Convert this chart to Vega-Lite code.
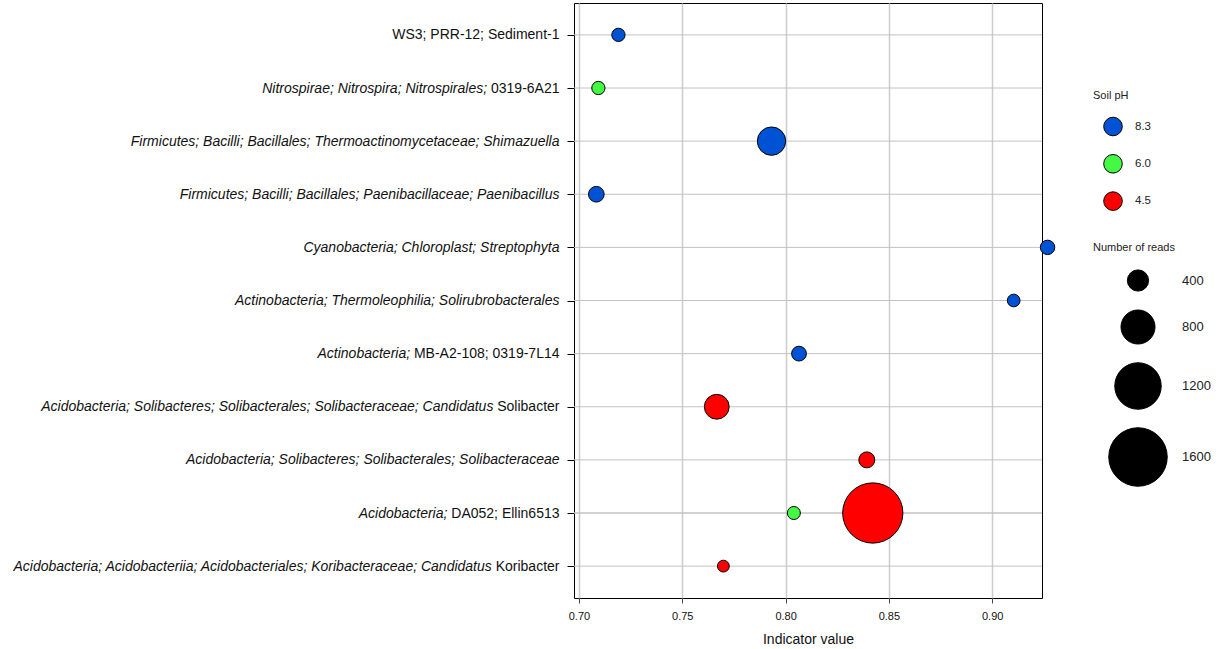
{
  "$schema": "https://vega.github.io/schema/vega-lite/v6.json",
  "width": 468,
  "height": 595,
  "padding": {"left": 11, "top": 3, "right": 0, "bottom": 0},
  "background": "white",
  "config": {
    "font": "Liberation Sans",
    "view": {"stroke": "#000000", "strokeWidth": 1},
    "axis": {"domain": false, "labelColor": "#111111", "titleColor": "#111111"},
    "legend": {
      "padding": 0,
      "labelFontSize": 11.5,
      "labelColor": "#222222",
      "titleFontSize": 11,
      "titleFontWeight": "normal",
      "titleColor": "#222222"
    }
  },
  "data": {
    "values": [
      {"taxon": "WS3; PRR-12; Sediment-1", "ph": "8.3", "reads": 127, "indval": 0.7191},
      {"taxon": "_Nitrospirae; Nitrospira; Nitrospirales;_ 0319-6A21", "ph": "6.0", "reads": 125, "indval": 0.7094},
      {"taxon": "_Firmicutes; Bacilli; Bacillales; Thermoactinomycetaceae; Shimazuella_", "ph": "8.3", "reads": 623, "indval": 0.7932},
      {"taxon": "_Firmicutes; Bacilli; Bacillales; Paenibacillaceae; Paenibacillus_", "ph": "8.3", "reads": 219, "indval": 0.7084},
      {"taxon": "_Cyanobacteria; Chloroplast; Streptophyta_", "ph": "8.3", "reads": 173, "indval": 0.9268},
      {"taxon": "_Actinobacteria; Thermoleophilia; Solirubrobacterales_", "ph": "8.3", "reads": 99, "indval": 0.9104},
      {"taxon": "_Actinobacteria;_ MB-A2-108; 0319-7L14", "ph": "8.3", "reads": 187, "indval": 0.8065},
      {"taxon": "_Acidobacteria; Solibacteres; Solibacterales; Solibacteraceae; Candidatus_ Solibacter", "ph": "4.5", "reads": 512, "indval": 0.7667},
      {"taxon": "_Acidobacteria; Solibacteres; Solibacterales; Solibacteraceae_", "ph": "4.5", "reads": 228, "indval": 0.8393},
      {"taxon": "_Acidobacteria;_ DA052; Ellin6513", "ph": "6.0", "reads": 115, "indval": 0.804},
      {"taxon": "_Acidobacteria;_ DA052; Ellin6513", "ph": "4.5", "reads": 1660, "indval": 0.8422},
      {"taxon": "_Acidobacteria; Acidobacteriia; Acidobacteriales; Koribacteraceae; Candidatus_ Koribacter", "ph": "4.5", "reads": 50, "indval": 0.7699}
    ]
  },
  "layer": [
    {
      "mark": {"type": "rule", "color": "#c2c2c2", "strokeWidth": 1},
      "encoding": {
        "y": {
          "field": "taxon",
          "type": "nominal",
          "sort": null,
          "scale": {"type": "point", "padding": 0.6},
          "axis": {
            "orient": "left",
            "title": null,
            "grid": false,
            "ticks": true,
            "tickSize": 7,
            "tickColor": "transparent",
            "labelExpr": "test(/_/, datum.value) ? split(datum.value, '_')[1] : ''",
            "labelFontStyle": "italic",
            "labelFontSize": 14,
            "labelLimit": 1000,
            "labelPadding": {
              "condition": [
                {"test": "test(/0319-6A21/, datum.value)", "value": 80.4},
                {"test": "test(/MB-A2-108/, datum.value)", "value": 157.4},
                {"test": "test(/_ Solibacter/, datum.value)", "value": 74.1},
                {"test": "test(/DA052/, datum.value)", "value": 120.1},
                {"test": "test(/_ Koribacter/, datum.value)", "value": 75.7}
              ],
              "value": 8
            }
          }
        }
      }
    },
    {
      "mark": {"type": "point", "shape": "circle", "filled": true, "opacity": 1, "stroke": "#000000", "strokeWidth": 1},
      "encoding": {
        "x": {
          "field": "indval",
          "type": "quantitative",
          "scale": {"domain": [0.6976, 0.9241], "nice": false, "zero": false},
          "axis": {
            "title": "Indicator value",
            "values": [0.7, 0.75, 0.8, 0.85, 0.9],
            "format": ".2f",
            "labelFontSize": 11,
            "labelPadding": 7,
            "tickSize": 5,
            "tickColor": "#444444",
            "grid": true,
            "gridColor": "#cccccc",
            "gridWidth": 1.5,
            "titleFontSize": 14,
            "titleFontWeight": "normal",
            "titlePadding": 11
          }
        },
        "y": {
          "field": "taxon",
          "type": "nominal",
          "sort": null,
          "axis": {
            "orient": "left",
            "title": null,
            "grid": false,
            "tickSize": 7,
            "tickColor": "#000000",
            "labelExpr": "test(/_/, datum.value) ? trim(split(datum.value, '_')[2]) : datum.value",
            "labelFontStyle": "normal",
            "labelFontSize": 14,
            "labelLimit": 1000,
            "labelPadding": 8
          }
        },
        "color": {
          "field": "ph",
          "type": "nominal",
          "scale": {"domain": ["8.3", "6.0", "4.5"], "range": ["#0052d4", "#44f844", "#ff0000"]},
          "legend": {
            "title": "Soil pH",
            "orient": "none",
            "legendX": 519,
            "legendY": 86.5,
            "symbolType": "circle",
            "symbolSize": 346,
            "symbolStrokeColor": "#000000",
            "symbolStrokeWidth": 1,
            "symbolOffset": 10,
            "labelOffset": 12,
            "rowPadding": 13.3,
            "titlePadding": 16
          }
        },
        "size": {
          "field": "reads",
          "type": "quantitative",
          "scale": {"type": "pow", "exponent": 1.68, "domain": [0, 1600], "range": [130, 3421]},
          "legend": {
            "title": "Number of reads",
            "orient": "none",
            "legendX": 519,
            "legendY": 239,
            "values": [400, 800, 1200, 1600],
            "format": "d",
            "labelFontSize": 13,
            "symbolType": "circle",
            "symbolFillColor": "#000000",
            "symbolStrokeColor": "#000000",
            "symbolStrokeWidth": 1,
            "symbolOffset": 15,
            "labelOffset": 14,
            "rowPadding": 13,
            "titlePadding": 16
          }
        }
      }
    }
  ],
  "resolve": {"axis": {"y": "independent"}}
}
